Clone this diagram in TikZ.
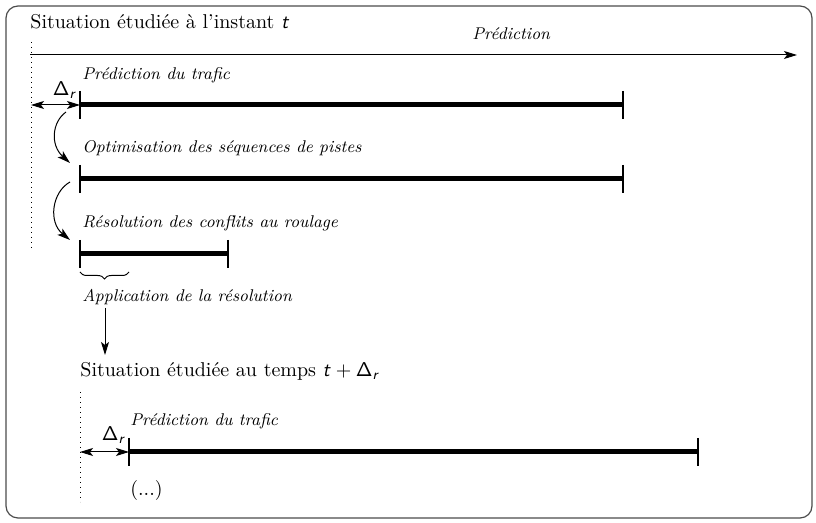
\documentclass[tikz,border=0pt]{standalone}
\usetikzlibrary{arrows.meta,decorations.pathreplacing}
\DeclareMathAlphabet{\mathsfsl}{OT1}{cmss}{m}{sl}
\newcommand{\Dr}{\ensuremath{\mathsf{\Delta}_{\mathsfsl{r}}}}
\begin{document}
\begin{tikzpicture}[x=0.5pt,y=-0.5pt,
  lbl/.style={font=\fontsize{8.5}{10}\selectfont\itshape, anchor=base west, inner sep=0},
  ttl/.style={anchor=base west, inner sep=0},
  bar/.style={line width=2.5pt},
  tickmark/.style={line width=0.8pt},
  arr/.style={-{Stealth[length=6.5pt,width=4pt,inset=1.5pt]}, line width=0.5pt},
  darr/.style={{Stealth[length=6.5pt,width=4pt,inset=1.5pt]}-{Stealth[length=6.5pt,width=4pt,inset=1.5pt]}, line width=0.5pt},
  dots/.style={dotted, line width=0.5pt},
]
\useasboundingbox (0,0) rectangle (816,523);
\draw[black!70, line width=0.6pt, rounded corners=6pt] (6,6) rectangle (812,518);

% title
\node[ttl] (title) at (30,29) {Situation étudiée à l'instant $\mathsfsl{t}$};
\coordinate (d1a) at (31,42);
\coordinate (d1b) at (31,250);
\draw[dots] (d1a) -- (d1b);

% prediction axis
\coordinate (p0) at (30,55);
\coordinate (p1) at (797,55);
\draw[arr] (p0) -- (p1);
\node[lbl] (pred) at (472,40) {Prédiction};

% bar 1
\node[lbl] (l1) at (82,80) {Prédiction du trafic};
\coordinate (b1a) at (80,105);
\coordinate (b1b) at (623,105);
\draw[bar] (b1a) -- (b1b);
\draw[tickmark] ([yshift=7pt]b1a) -- ([yshift=-7pt]b1a);
\draw[tickmark] ([yshift=7pt]b1b) -- ([yshift=-7pt]b1b);
\coordinate (r1) at (31,105);
\draw[darr] (r1) -- (b1a);
\node[inner sep=0] (dr1) at (65,90) {\Dr};

% curve 1
\coordinate (c1s) at (66,112);
\coordinate (c1e) at (70,163);
\draw[arr] (c1s) .. controls (52,122) and (50,145) .. (c1e);

% bar 2
\node[lbl] (l2) at (82,153) {Optimisation des séquences de pistes};
\coordinate (b2a) at (80,179);
\coordinate (b2b) at (623,179);
\draw[bar] (b2a) -- (b2b);
\draw[tickmark] ([yshift=7pt]b2a) -- ([yshift=-7pt]b2a);
\draw[tickmark] ([yshift=7pt]b2b) -- ([yshift=-7pt]b2b);

% curve 2
\coordinate (c2s) at (70,182);
\coordinate (c2e) at (70,240);
\draw[arr] (c2s) .. controls (52,192) and (48,222) .. (c2e);

% bar 3
\node[lbl] (l3) at (82,228) {Résolution des conflits au roulage};
\coordinate (b3a) at (80,254);
\coordinate (b3b) at (228,254);
\draw[bar] (b3a) -- (b3b);
\draw[tickmark] ([yshift=7pt]b3a) -- ([yshift=-7pt]b3a);
\draw[tickmark] ([yshift=7pt]b3b) -- ([yshift=-7pt]b3b);

% brace
\coordinate (br1) at (80,272);
\coordinate (br2) at (129,272);
\draw[decorate, decoration={brace, mirror, amplitude=3.5pt}, line width=0.5pt] (br1) -- (br2);
\node[lbl] (app) at (82,302) {Application de la résolution};

% down arrow
\coordinate (a1) at (105,308);
\coordinate (a2) at (105,355);
\draw[arr] (a1) -- (a2);

% second situation
\node[ttl] (title2) at (80,377) {Situation étudiée au temps $\mathsfsl{t}+\mathsf{\Delta}_{\mathsfsl{r}}$};
\coordinate (d2a) at (80,392);
\coordinate (d2b) at (80,502);
\draw[dots] (d2a) -- (d2b);

\node[lbl] (l4) at (130,426) {Prédiction du trafic};
\coordinate (b4a) at (129,452);
\coordinate (b4b) at (698,452);
\draw[bar] (b4a) -- (b4b);
\draw[tickmark] ([yshift=7pt]b4a) -- ([yshift=-7pt]b4a);
\draw[tickmark] ([yshift=7pt]b4b) -- ([yshift=-7pt]b4b);
\coordinate (r2) at (80,452);
\draw[darr] (r2) -- (b4a);
\node[inner sep=0] (dr2) at (114,435) {\Dr};

\node[ttl] (etc) at (130,496) {(...)};
\end{tikzpicture}
\end{document}
